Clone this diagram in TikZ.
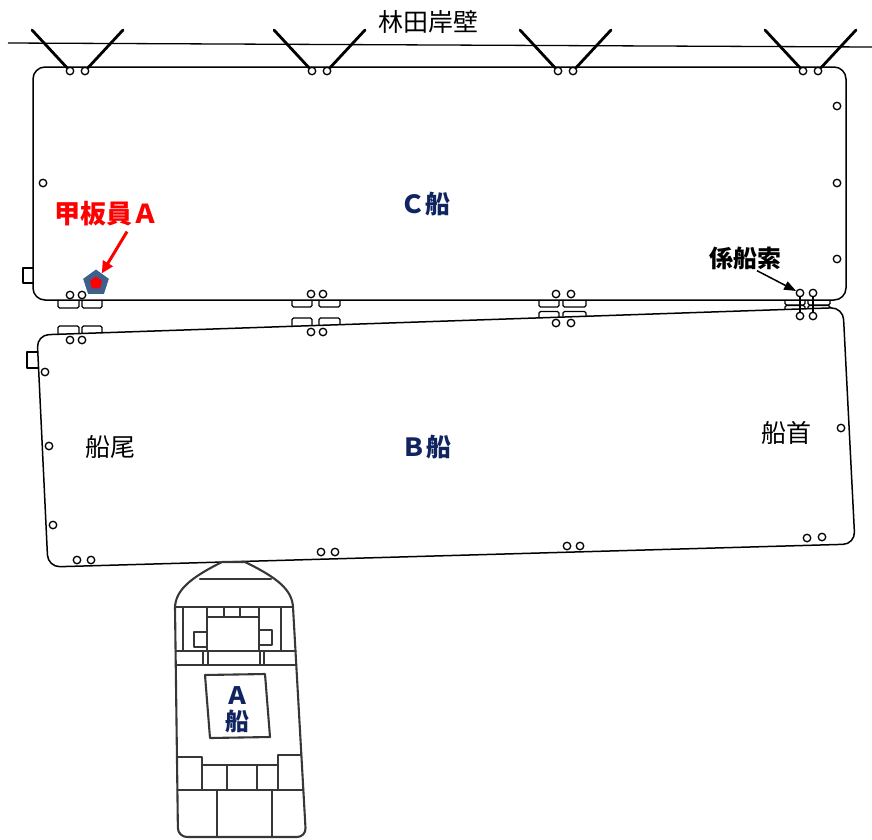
\documentclass[tikz,border=0pt]{standalone}
\usepackage{fontspec}
\newfontfamily\jp{Noto Sans CJK JP}
\usetikzlibrary{arrows.meta,shapes.geometric}
\definecolor{shipblue}{RGB}{16,36,96}
\definecolor{crewblue}{RGB}{62,96,140}
\definecolor{hullgray}{RGB}{55,55,55}

\begin{document}
\begin{tikzpicture}[x=1pt, y=-1pt,
  hull/.style={line width=1.5pt, line join=round},
  bitt/.style={circle, draw, line width=1.3pt, fill=white, inner sep=0pt, minimum size=7.5pt},
  rope/.style={line width=2.8pt, line cap=round},
  fender/.style={line width=1.2pt, rounded corners=1.5pt},
  boat/.style={line width=2.1pt, draw=hullgray, line join=round, line cap=round},
  lbl/.style={font=\jp\fontsize{25pt}{27pt}\selectfont, inner sep=1pt},
  shipname/.style={font=\jp\bfseries\fontsize{25pt}{26pt}\selectfont, text=shipblue, inner sep=1pt}]
\useasboundingbox (0,0) rectangle (872,839);

\draw[line width=1.3pt] (8,43) -- (872,47);
\node[lbl] (quay) at (428,22) {林田岸壁};

% ship C and ship B
\draw[hull, rounded corners=12pt] (33,67) rectangle (846,300);
\draw[hull, rounded corners=12pt] (37,335) -- (843,307.5) -- (855,544) -- (48,567) -- cycle;
\draw[hull] (33,268) -- (23,268) -- (23,283) -- (33,283);
\draw[hull] (38,352) -- (27,352) -- (27,368) -- (38.5,368);

% fenders between the two ships
\foreach \a/\b/\h in {58/79/308, 82/102/308, 292/312/307, 319/340/307, 539/559/307, 563/586/307, 785/805/305, 808/830/305}
  \draw[fender] (\a,300) -- (\a,\h) -- (\b,\h) -- (\b,300);
\foreach \a/\b/\t in {58/79/326, 82/102/326, 292/312/318, 319/340/318, 539/559/311.5, 563/586/311.5, 785/805/305.5, 808/830/305.5}
  \draw[fender] (\a,{334.6-(\a-37)*0.0341}) -- (\a,\t) -- (\b,\t) -- (\b,{334.6-(\b-37)*0.0341});

% mooring to the quay
\foreach \x [count=\i] in {70,312,558,803} {
  \coordinate (qa\i) at (\x-38,30);
  \coordinate (qb\i) at (\x+53,30);
  \node[bitt] (ta\i) at (\x,71) {};
  \node[bitt] (tb\i) at (\x+15,71) {};
  \draw[rope] (ta\i) -- (qa\i);
  \draw[rope] (tb\i) -- (qb\i);
}

\foreach \p [count=\i] in {(43,183),(837,106),(837,183),(837,259),(70,295),(82,295),(311,294),(323,294),(556,294),(571,294)}
  \node[bitt] (cb\i) at \p {};
\foreach \p [count=\i] in {(70,340),(82,340),(311,332),(323,332),(556,323),(571,323),(45,372),(49,446),(53,525),(841,428),(77,560),(91,560),(321,552),(335,552),(567,546),(580,546),(807,538),(822,537)}
  \node[bitt] (bb\i) at \p {};

\node[bitt] (m1) at (800,293) {};
\node[bitt] (m2) at (813,293) {};
\node[bitt] (m3) at (800,316) {};
\node[bitt] (m4) at (813,316) {};
\draw[line width=2pt] (m1) -- (m3) (m2) -- (m4);

% ship A
\draw[boat] (175,607) .. controls (176,590) and (190,578) .. (222,562) -- (245,562)
  .. controls (278,578) and (292,590) .. (293,607) [rounded corners=9pt] -- (306,837) -- (178,837) -- (175,607);
\draw[boat] (200,579) -- (271,579);
\draw[boat] (175,607) -- (293,607);
\draw[boat] (183,607) -- (183,651) (281,607) -- (281,651);
\draw[boat] (207,607) -- (207,651) (259,607) -- (259,651);
\draw[boat] (207,617) -- (259,617) (224,607) -- (224,617) (240,607) -- (240,617);
\draw[boat] (207,632) -- (194,632) -- (194,647) -- (207,647);
\draw[boat] (259,630) -- (272,630) -- (272,645) -- (259,645);
\draw[boat] (175.6,651) -- (295.5,651) (175.8,665) -- (296.3,665);
\draw[boat] (203,651) -- (203,665) (208,651) -- (208,665) (260,651) -- (260,665) (264,651) -- (264,665);
\draw[boat] (205,675) -- (265,674) -- (270,737) -- (210,738) -- cycle;
\draw[boat] (177,757) -- (202,757) -- (202,765) -- (278,765) -- (278,755) -- (301.4,755);
\draw[boat] (202,765) -- (202,790) (227,765) -- (227,790) (257,765) -- (257,790) (278,765) -- (278,790);
\draw[boat] (177.4,790) -- (303.3,790);
\draw[boat] (217,790) -- (217,837) (272,790) -- (272,837);

% labels
\node[shipname] (cname) at (425,204) {Ｃ船};
\node[shipname] (bname) at (426,447) {Ｂ船};
\node[shipname, align=center, font=\jp\bfseries\fontsize{24pt}{26pt}\selectfont] (aname) at (237,710) {Ａ\\船};
\node[lbl] (stern) at (110,447) {船尾};
\node[lbl] (bow) at (786,433) {船首};
\node[lbl, font=\jp\bfseries\fontsize{24pt}{26pt}\selectfont] (moor) at (745,258) {係船索};
\node[lbl, font=\jp\bfseries\fontsize{26pt}{28pt}\selectfont, text=red] (crew) at (106,214) {甲板員Ａ};

\node[regular polygon, regular polygon sides=5, minimum size=27pt, fill=crewblue, inner sep=0pt] (worker) at (96,283) {};
\node[regular polygon, regular polygon sides=5, minimum size=13pt, fill=red, inner sep=0pt] (dot) at (worker.center) {};

\draw[-{Triangle[length=12pt,width=11pt]}, line width=3pt, red] ([xshift=21pt,yshift=-4pt]crew.south) -- (worker);
\draw[-{Triangle[length=12pt,width=9pt]}, line width=1.5pt] ([xshift=12pt]moor.south) -- (m1);
\end{tikzpicture}
\end{document}
